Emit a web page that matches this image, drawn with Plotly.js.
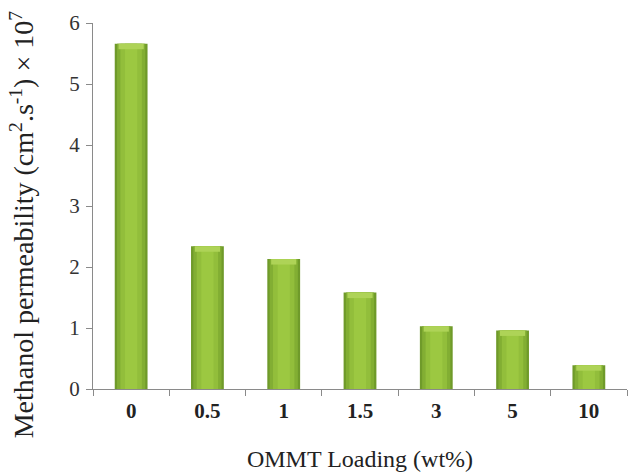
<!DOCTYPE html>
<html>
<head>
<meta charset="utf-8">
<script src="https://cdn.plot.ly/plotly-3.0.1.min.js"></script>
<style>html,body{margin:0;padding:0;background:#fff;}#chart{width:631px;height:472px;}</style>
</head>
<body>
<div id="chart"></div>
<script>
const categories = ["0", "0.5", "1", "1.5", "3", "5", "10"];
const permeability = [5.66, 2.34, 2.13, 1.58, 1.03, 0.96, 0.39];
const yTicks = [0, 1, 2, 3, 4, 5, 6];
const yTitle = 'Methanol permeability (cm<sup>2</sup>.s<sup>-1</sup>) × 10<sup>7</sup>';
const xTitle = 'OMMT Loading (wt%)';

const capH = 0.09;
const capBase = permeability.map(v => v - capH);
const capY = permeability.map(() => capH);

const traces = [
  {type: 'bar', x: categories, y: permeability, width: 0.43, marker: {color: '#6F9A2A', line: {width: 0}}, hoverinfo: 'skip'},
  {type: 'bar', x: categories, y: permeability, width: 0.37, marker: {color: '#82AE33', line: {width: 0}}, hoverinfo: 'skip'},
  {type: 'bar', x: categories, y: permeability, width: 0.28, marker: {color: '#92BE3B', line: {width: 0}}, hoverinfo: 'skip'},
  {type: 'bar', x: categories, y: permeability, width: 0.16, marker: {color: '#9CC841', line: {width: 0}}},
  {type: 'bar', x: categories, y: capY, base: capBase, width: 0.33, marker: {color: '#AED357', line: {width: 0}}, hoverinfo: 'skip'}
];

const layout = {
  width: 631, height: 472,
  margin: {l: 93, r: 4, t: 23, b: 83},
  paper_bgcolor: '#fff', plot_bgcolor: '#fff',
  barmode: 'overlay',
  showlegend: false,
  font: {family: 'Liberation Serif, Times New Roman, serif', color: '#222'},
  xaxis: {
    type: 'category',
    showline: true, linecolor: '#8a8a8a', linewidth: 1,
    ticks: 'outside', tickson: 'boundaries', ticklen: 6, tickcolor: '#8a8a8a',
    tickfont: {size: 21, color: '#222', family: 'Liberation Serif', weight: 'bold'},
    ticklabelstandoff: 3,
    showgrid: false, zeroline: false,
    title: {text: xTitle, font: {size: 24, color: '#222'}, standoff: 29}
  },
  yaxis: {
    range: [0, 6], tickvals: yTicks,
    showline: true, linecolor: '#8a8a8a', linewidth: 1,
    ticks: 'outside', ticklen: 6, tickcolor: '#8a8a8a',
    tickfont: {size: 21, color: '#333'},
    ticklabelstandoff: 2,
    showgrid: false, zeroline: false
  },
  annotations: [{
    text: yTitle, textangle: -90, showarrow: false,
    xref: 'paper', yref: 'paper', x: -0.133, y: 0.45,
    xanchor: 'center', yanchor: 'middle',
    font: {size: 28, color: '#222'}
  }]
};

Plotly.newPlot('chart', traces, layout, {displayModeBar: false, staticPlot: true});
</script>
</body>
</html>
